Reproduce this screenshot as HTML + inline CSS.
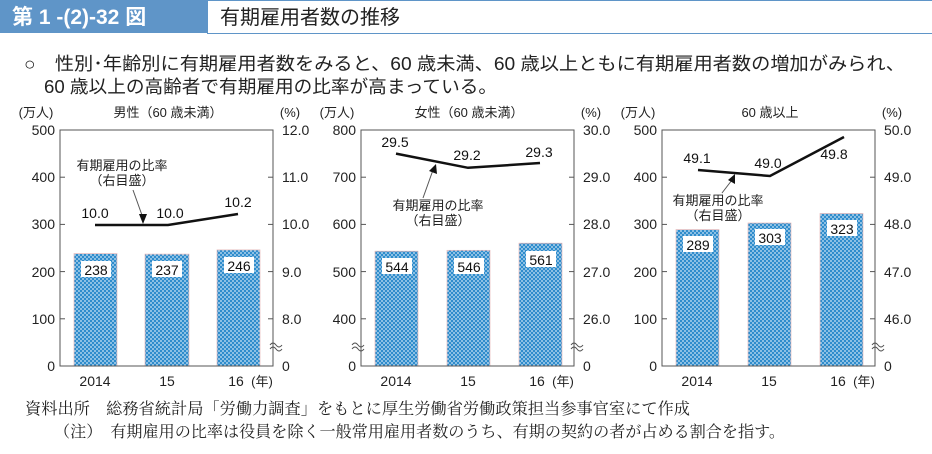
<!DOCTYPE html>
<html><head><meta charset="utf-8"><style>
html,body{margin:0;padding:0;background:#fff;}
svg{display:block;font-family:"Liberation Sans","Noto Sans CJK JP",sans-serif;}
.t{font-size:14px;fill:#222}
.s{font-size:13px;fill:#222}
.v{font-size:14px;fill:#111}
</style></head><body>
<svg width="932" height="454" viewBox="0 0 932 454" xmlns="http://www.w3.org/2000/svg">
<defs>
<pattern id="dots" width="4" height="4" patternUnits="userSpaceOnUse">
<rect width="4" height="4" fill="#2f8ccc"/>
<circle cx="1" cy="1" r="0.9" fill="#cfe6f5"/>
<circle cx="3" cy="3" r="0.9" fill="#cfe6f5"/>
</pattern>
<g id="frame">
<rect x="0" y="130" width="213" height="236" fill="none" stroke="#555" stroke-width="1"/>
<g stroke="#555">
<line x1="0" y1="177.2" x2="5" y2="177.2"/><line x1="0" y1="224.4" x2="5" y2="224.4"/><line x1="0" y1="271.6" x2="5" y2="271.6"/><line x1="0" y1="318.8" x2="5" y2="318.8"/>
<line x1="208" y1="177.2" x2="213" y2="177.2"/><line x1="208" y1="224.4" x2="213" y2="224.4"/><line x1="208" y1="271.6" x2="213" y2="271.6"/><line x1="208" y1="318.8" x2="213" y2="318.8"/>
</g>
<text class="t" x="35" y="386" text-anchor="middle">2014</text>
<text class="t" x="107" y="386" text-anchor="middle">15</text>
<text class="t" x="176" y="386" text-anchor="middle">16</text>
<text class="s" x="202" y="386" text-anchor="middle">(年)</text>
<text class="s" x="-24" y="117" text-anchor="middle">(万人)</text>
<text class="s" x="230" y="117" text-anchor="middle">(%)</text>
</g>
<path id="wave" d="M-6,0 q3,-4 6,0 t6,0 M-6,4 q3,-4 6,0 t6,0" fill="none" stroke="#555" stroke-width="1"/>
</defs>

<!-- header -->
<rect x="0" y="0" width="207" height="33" fill="#5f95c8"/>
<rect x="207.5" y="0.5" width="923" height="33" fill="none" stroke="#5f95c8" stroke-width="1"/>
<text x="12" y="24" style="font-size:21px;fill:#fff;font-weight:bold">第 1 -(2)-32 図</text>
<text x="220" y="24" style="font-size:20px;fill:#222">有期雇用者数の推移</text>
<text x="24" y="70" style="font-size:18px;fill:#222" textLength="881" lengthAdjust="spacingAndGlyphs">○　性別･年齢別に有期雇用者数をみると、60 歳未満、60 歳以上ともに有期雇用者数の増加がみられ、</text>
<text x="44" y="93" style="font-size:18px;fill:#222" textLength="453" lengthAdjust="spacingAndGlyphs">60 歳以上の高齢者で有期雇用の比率が高まっている。</text>

<!-- chart 1 -->
<g transform="translate(60,0)">
<rect x="14" y="253.6" width="43" height="112.4" fill="url(#dots)" stroke="#e8b8b8" stroke-width="0.7"/>
<rect x="85" y="254.1" width="44" height="111.9" fill="url(#dots)" stroke="#e8b8b8" stroke-width="0.7"/>
<rect x="157" y="249.9" width="43" height="116.1" fill="url(#dots)" stroke="#e8b8b8" stroke-width="0.7"/>
<use href="#frame"/>
<text class="s" x="108" y="117" text-anchor="middle">男性（60 歳未満）</text>
<g class="t" text-anchor="end"><text x="-5" y="135">500</text><text x="-5" y="182">400</text><text x="-5" y="229">300</text><text x="-5" y="277">200</text><text x="-5" y="324">100</text><text x="-5" y="371">0</text></g>
<g class="t"><text x="222" y="135">12.0</text><text x="222" y="182">11.0</text><text x="222" y="229">10.0</text><text x="222" y="277">9.0</text><text x="222" y="324">8.0</text><text x="222" y="371">0</text></g>
<use href="#wave" transform="translate(216,345)"/>
<g class="v" text-anchor="middle">
<rect x="21" y="261" width="30" height="16" fill="#fff"/><text x="36" y="275">238</text>
<rect x="92" y="261" width="30" height="16" fill="#fff"/><text x="107" y="275">237</text>
<rect x="164" y="257" width="30" height="16" fill="#fff"/><text x="179" y="271">246</text>
</g>
<polyline points="35,225 108,225 178,214" fill="none" stroke="#111" stroke-width="2.5"/>
<g class="v" text-anchor="middle"><text x="35" y="218">10.0</text><text x="110" y="218">10.0</text><text x="178" y="207">10.2</text></g>
<text class="s" x="62" y="170" text-anchor="middle">有期雇用の比率</text>
<text class="s" x="62" y="185" text-anchor="middle">（右目盛）</text>
<line x1="73" y1="190" x2="83" y2="218" stroke="#555"/>
<polygon points="83,224 79,214 87,214" fill="#111"/>
</g>

<!-- chart 2 -->
<g transform="translate(361,0)">
<rect x="14" y="251.2" width="43" height="114.8" fill="url(#dots)" stroke="#e8b8b8" stroke-width="0.7"/>
<rect x="86" y="250.3" width="43" height="115.7" fill="url(#dots)" stroke="#e8b8b8" stroke-width="0.7"/>
<rect x="158" y="243.2" width="43" height="122.8" fill="url(#dots)" stroke="#e8b8b8" stroke-width="0.7"/>
<use href="#frame"/>
<text class="s" x="108" y="117" text-anchor="middle">女性（60 歳未満）</text>
<g class="t" text-anchor="end"><text x="-5" y="135">800</text><text x="-5" y="182">700</text><text x="-5" y="229">600</text><text x="-5" y="277">500</text><text x="-5" y="324">400</text><text x="-5" y="371">0</text></g>
<g class="t"><text x="222" y="135">30.0</text><text x="222" y="182">29.0</text><text x="222" y="229">28.0</text><text x="222" y="277">27.0</text><text x="222" y="324">26.0</text><text x="222" y="371">0</text></g>
<use href="#wave" transform="translate(-3,345)"/>
<use href="#wave" transform="translate(216,345)"/>
<g class="v" text-anchor="middle">
<rect x="21" y="258" width="30" height="16" fill="#fff"/><text x="36" y="272">544</text>
<rect x="93" y="258" width="30" height="16" fill="#fff"/><text x="108" y="272">546</text>
<rect x="165" y="251" width="30" height="16" fill="#fff"/><text x="180" y="265">561</text>
</g>
<polyline points="35,153.6 107,167.8 179,163" fill="none" stroke="#111" stroke-width="2.5"/>
<g class="v" text-anchor="middle"><text x="34" y="147">29.5</text><text x="106" y="160">29.2</text><text x="178" y="157">29.3</text></g>
<text class="s" x="77" y="210" text-anchor="middle">有期雇用の比率</text>
<text class="s" x="77" y="225" text-anchor="middle">（右目盛）</text>
<line x1="62" y1="198" x2="72" y2="170" stroke="#555"/>
<polygon points="75,164 76,174 68,171" fill="#111"/>
</g>

<!-- chart 3 -->
<g transform="translate(662,0)">
<rect x="14" y="229.6" width="43" height="136.4" fill="url(#dots)" stroke="#e8b8b8" stroke-width="0.7"/>
<rect x="86" y="223" width="43" height="143" fill="url(#dots)" stroke="#e8b8b8" stroke-width="0.7"/>
<rect x="158" y="213.5" width="43" height="152.5" fill="url(#dots)" stroke="#e8b8b8" stroke-width="0.7"/>
<use href="#frame"/>
<text class="s" x="108" y="117" text-anchor="middle">60 歳以上</text>
<g class="t" text-anchor="end"><text x="-5" y="135">500</text><text x="-5" y="182">400</text><text x="-5" y="229">300</text><text x="-5" y="277">200</text><text x="-5" y="324">100</text><text x="-5" y="371">0</text></g>
<g class="t"><text x="222" y="135">50.0</text><text x="222" y="182">49.0</text><text x="222" y="229">48.0</text><text x="222" y="277">47.0</text><text x="222" y="324">46.0</text><text x="222" y="371">0</text></g>
<use href="#wave" transform="translate(216,345)"/>
<g class="v" text-anchor="middle">
<rect x="21" y="236" width="30" height="16" fill="#fff"/><text x="36" y="250">289</text>
<rect x="93" y="229" width="30" height="16" fill="#fff"/><text x="108" y="243">303</text>
<rect x="165" y="220" width="30" height="16" fill="#fff"/><text x="180" y="234">323</text>
</g>
<polyline points="36,170 108,176 182,137" fill="none" stroke="#111" stroke-width="2.5"/>
<g class="v" text-anchor="middle"><text x="35" y="163">49.1</text><text x="106" y="168">49.0</text><text x="172" y="159">49.8</text></g>
<text class="s" x="56" y="205" text-anchor="middle">有期雇用の比率</text>
<text class="s" x="56" y="220" text-anchor="middle">（右目盛）</text>
<line x1="60" y1="193" x2="70" y2="180" stroke="#555"/>
<polygon points="73,174 73,184 66,180" fill="#111"/>
</g>

<g style="font-family:'Liberation Serif','Noto Serif CJK SC',serif;font-size:16px;fill:#222">
<text x="25" y="414" textLength="665" lengthAdjust="spacingAndGlyphs">資料出所　総務省統計局「労働力調査」をもとに厚生労働省労働政策担当参事官室にて作成</text>
<text x="54" y="437" textLength="731" lengthAdjust="spacingAndGlyphs">（注）　有期雇用の比率は役員を除く一般常用雇用者数のうち、有期の契約の者が占める割合を指す。</text>
</g>
</svg>
</body></html>
